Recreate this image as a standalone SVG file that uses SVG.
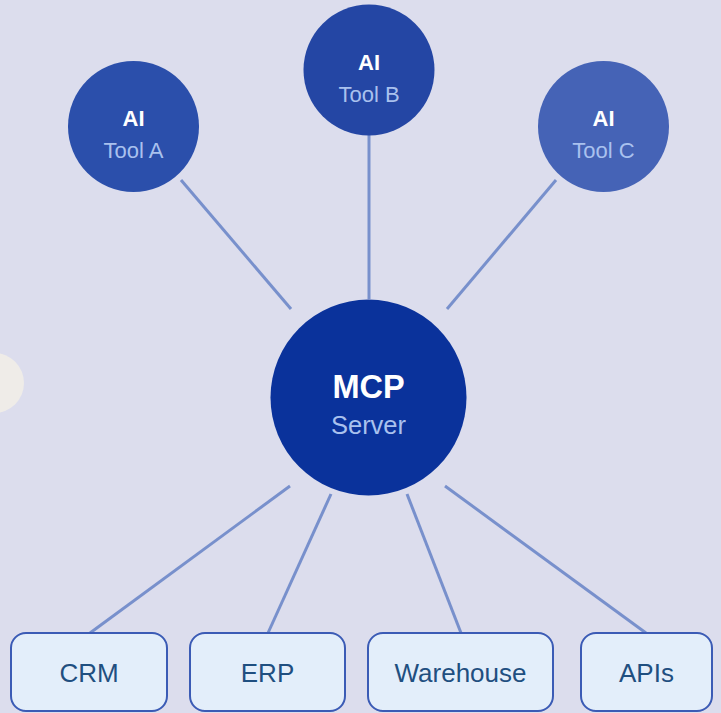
<svg xmlns="http://www.w3.org/2000/svg" width="721" height="713" viewBox="0 0 721 713">
<style>
.ln{stroke:#7890cc;stroke-width:3;fill:none}
.t1{font-family:"Liberation Sans",Arial,sans-serif;font-weight:bold;fill:#ffffff;text-anchor:middle}
.t2{font-family:"Liberation Sans",Arial,sans-serif;fill:#a9c1ee;text-anchor:middle}
.box{fill:#e3eefa;stroke:#3b5bb5;stroke-width:2}
.bt{font-family:"Liberation Sans",Arial,sans-serif;font-size:26px;fill:#1f4f80;text-anchor:middle}
</style>
<rect width="721" height="713" fill="#dcdded"/>
<circle cx="-6" cy="383" r="30" fill="#efece8"/>
<g id="connectors">
<line class="ln" x1="181" y1="180" x2="291" y2="309"/>
<line class="ln" x1="369" y1="135" x2="369" y2="299"/>
<line class="ln" x1="556" y1="180" x2="447" y2="309"/>
<line class="ln" x1="290" y1="486" x2="90" y2="633"/>
<line class="ln" x1="331" y1="494" x2="268" y2="633"/>
<line class="ln" x1="407" y1="494" x2="461" y2="633"/>
<line class="ln" x1="445" y1="486" x2="646" y2="633"/>
</g>
<g id="toolA">
<circle cx="133.5" cy="126.5" r="65.5" fill="#2b4fab"/>
<text class="t1" x="133.5" y="126" font-size="22">AI</text>
<text class="t2" x="133.5" y="158" font-size="22">Tool A</text>
</g>
<g id="toolB">
<circle cx="369" cy="70" r="65.5" fill="#2446a4"/>
<text class="t1" x="369" y="69.5" font-size="22">AI</text>
<text class="t2" x="369" y="101.5" font-size="22">Tool B</text>
</g>
<g id="toolC">
<circle cx="603.5" cy="126.5" r="65.5" fill="#4563b6"/>
<text class="t1" x="603.5" y="126" font-size="22">AI</text>
<text class="t2" x="603.5" y="158" font-size="22">Tool C</text>
</g>
<g id="mcp">
<circle cx="368.5" cy="397.5" r="98" fill="#0a329b"/>
<text class="t1" x="368.5" y="398" font-size="32.5">MCP</text>
<text class="t2" x="368.5" y="434" font-size="25.5">Server</text>
</g>
<g id="crm">
<rect class="box" x="11" y="633" width="156" height="78" rx="15"/>
<text class="bt" x="89" y="682">CRM</text>
</g>
<g id="erp">
<rect class="box" x="190" y="633" width="155" height="78" rx="15"/>
<text class="bt" x="267.5" y="682">ERP</text>
</g>
<g id="warehouse">
<rect class="box" x="368" y="633" width="185" height="78" rx="15"/>
<text class="bt" x="460.5" y="682">Warehouse</text>
</g>
<g id="apis">
<rect class="box" x="581" y="633" width="131" height="78" rx="15"/>
<text class="bt" x="646.5" y="682">APIs</text>
</g>
</svg>
